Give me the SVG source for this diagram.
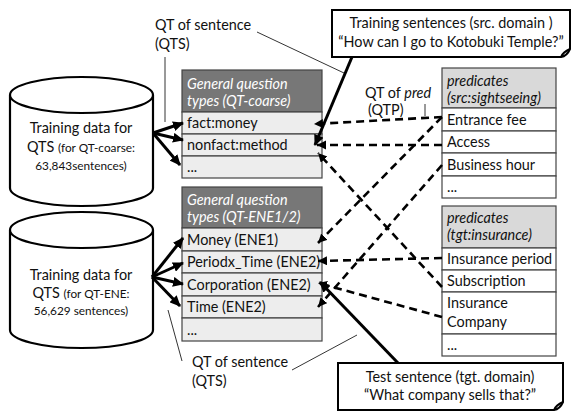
<svg xmlns="http://www.w3.org/2000/svg" width="572" height="412" viewBox="0 0 572 412">
<defs>
<marker id="ah" markerUnits="userSpaceOnUse" markerWidth="12" markerHeight="10" refX="10" refY="5" orient="auto">
<path d="M0,0 L11,5 L0,10 Z" fill="#000"/>
</marker>
<marker id="ahd" markerUnits="userSpaceOnUse" markerWidth="10" markerHeight="10" refX="9" refY="4.5" orient="auto">
<path d="M0,0 L9,4.5 L0,9 Z" fill="#000"/>
</marker>
<style>
text{font-family:Lato,"Liberation Sans",sans-serif;font-size:14.4px;fill:#111}
.s{font-size:11.8px}
.hd{font-style:italic;fill:#fff}
.hl{font-style:italic}
.cyl{fill:#fff;stroke:#000;stroke-width:2.2}
.hdark{fill:#777;stroke:#444;stroke-width:1.2}
.hlight{fill:#d9d9d9;stroke:#444;stroke-width:1.2}
.rg{fill:#ededed;stroke:#444;stroke-width:1.2}
.rw{fill:#fff;stroke:#444;stroke-width:1.2}
.arr{stroke:#000;stroke-width:3;fill:none;marker-end:url(#ah)}
.dash{stroke:#000;stroke-width:2.6;fill:none;stroke-dasharray:8,5;marker-end:url(#ahd)}
.thin{stroke:#000;stroke-width:0.8;fill:none}
.call{fill:#fff;stroke:#000;stroke-width:2}
</style>
</defs>

<g id="db1">
<path class="cyl" d="M10,95 V188 A71.5,18 0 0 0 153,188 V95 A71.5,18 0 0 0 10,95 A71.5,18 0 0 0 153,95"/>
<text x="81" y="133" text-anchor="middle">Training data for</text>
<text x="81" y="152" text-anchor="middle">QTS <tspan class="s">(for QT-coarse:</tspan></text>
<text x="81" y="170" text-anchor="middle" class="s">63,843sentences)</text>
</g>

<g id="db2">
<path class="cyl" d="M10,230 V330 A71.5,18 0 0 0 153,330 V230 A71.5,18 0 0 0 10,230 A71.5,18 0 0 0 153,230"/>
<text x="81" y="280" text-anchor="middle">Training data for</text>
<text x="81" y="298" text-anchor="middle">QTS <tspan class="s">(for QT-ENE:</tspan></text>
<text x="81" y="315" text-anchor="middle" class="s">56,629 sentences)</text>
</g>

<g id="qtcoarse">
<rect class="hdark" x="182" y="70" width="140" height="42"/>
<text x="187" y="89" class="hd">General question</text>
<text x="187" y="106" class="hd">types (QT-coarse)</text>
<rect class="rg" x="182" y="112" width="140" height="22"/>
<text x="187" y="128">fact:money</text>
<rect class="rg" x="182" y="134" width="140" height="22"/>
<text x="187" y="150">nonfact:method</text>
<rect class="rg" x="182" y="156" width="140" height="22"/>
<text x="187" y="172">...</text>
</g>

<g id="qtene">
<rect class="hdark" x="182" y="187" width="140" height="41"/>
<text x="187" y="205" class="hd">General question</text>
<text x="187" y="222" class="hd">types (QT-ENE1/2)</text>
<rect class="rg" x="182" y="228" width="140" height="23"/>
<text x="187" y="245">Money (ENE1)</text>
<rect class="rg" x="182" y="251" width="140" height="22"/>
<text x="187" y="267">Periodx_Time (ENE2)</text>
<rect class="rg" x="182" y="273" width="140" height="23"/>
<text x="187" y="290">Corporation (ENE2)</text>
<rect class="rg" x="182" y="296" width="140" height="22"/>
<text x="187" y="312">Time (ENE2)</text>
<rect class="rg" x="182" y="318" width="140" height="23"/>
<text x="187" y="335">...</text>
</g>

<g id="predsrc">
<rect class="hlight" x="442" y="68" width="114" height="40"/>
<text x="447" y="86" class="hl">predicates</text>
<text x="447" y="103" class="hl">(src:sightseeing)</text>
<rect class="rw" x="442" y="108" width="114" height="23"/>
<text x="447" y="125">Entrance fee</text>
<rect class="rw" x="442" y="131" width="114" height="22"/>
<text x="447" y="147">Access</text>
<rect class="rw" x="442" y="153" width="114" height="23"/>
<text x="447" y="170">Business hour</text>
<rect class="rw" x="442" y="176" width="114" height="22"/>
<text x="447" y="192">...</text>
</g>

<g id="predtgt">
<rect class="hlight" x="442" y="206" width="114" height="42"/>
<text x="447" y="223" class="hl">predicates</text>
<text x="447" y="240" class="hl">(tgt:insurance)</text>
<rect class="rw" x="442" y="248" width="114" height="22"/>
<text x="447" y="264">Insurance period</text>
<rect class="rw" x="442" y="270" width="114" height="22"/>
<text x="447" y="286">Subscription</text>
<rect class="rw" x="442" y="292" width="114" height="42"/>
<text x="447" y="308">Insurance</text>
<text x="447" y="327">Company</text>
<rect class="rw" x="442" y="334" width="114" height="22"/>
<text x="447" y="350">...</text>
</g>

<g id="callout-train">
<path class="call" d="M332,10 H570 V49 Q567,56 561,57 H332 Z"/>
<path d="M561,57 Q563,52 570,49" fill="none" stroke="#000" stroke-width="2"/>
<text x="451" y="28" text-anchor="middle">Training sentences (src. domain )</text>
<text x="451" y="47" text-anchor="middle">“How can I go to Kotobuki Temple?”</text>
</g>

<g id="callout-test">
<path class="call" d="M338,363 H563 V402 Q560,409 554,410 H338 Z"/>
<path d="M554,410 Q556,405 563,402" fill="none" stroke="#000" stroke-width="2"/>
<text x="450" y="382" text-anchor="middle">Test sentence (tgt. domain)</text>
<text x="450" y="400" text-anchor="middle">“What company  sells that?”</text>
</g>

<g id="labels">
<text x="155" y="30">QT of sentence</text>
<text x="155" y="49">(QTS)</text>
<text x="365" y="98">QT of <tspan font-style="italic">pred</tspan></text>
<text x="368" y="115">(QTP)</text>
<text x="192" y="367">QT of sentence</text>
<text x="192" y="386">(QTS)</text>
</g>

<g id="connectors">
<line class="thin" x1="165" y1="57" x2="165" y2="122"/>
<line class="thin" x1="257" y1="32" x2="344" y2="73"/>
<line class="thin" x1="425" y1="104" x2="425" y2="116"/>
<line class="thin" x1="168" y1="310" x2="182" y2="361"/>
<line class="thin" x1="292" y1="370" x2="357" y2="335"/>

<line class="arr" x1="153" y1="133" x2="183" y2="123"/>
<line class="arr" x1="153" y1="133" x2="183" y2="140"/>
<line class="arr" x1="153" y1="133" x2="180" y2="165"/>
<line class="arr" x1="152" y1="277" x2="183" y2="238"/>
<line class="arr" x1="152" y1="277" x2="183" y2="263"/>
<line class="arr" x1="152" y1="277" x2="183" y2="284"/>
<line class="arr" x1="152" y1="277" x2="180" y2="306"/>

<line class="arr" x1="352" y1="57" x2="315" y2="145"/>
<line class="arr" x1="398" y1="363" x2="320" y2="282"/>

<line class="dash" x1="442" y1="117" x2="314" y2="124"/>
<line class="dash" x1="442" y1="145" x2="317" y2="145"/>
<line class="dash" x1="442" y1="117" x2="318" y2="243"/>
<line class="dash" x1="442" y1="165" x2="318" y2="307"/>
<line class="dash" x1="442" y1="287" x2="318" y2="153"/>
<line class="dash" x1="442" y1="258" x2="318" y2="261"/>
<line class="dash" x1="442" y1="317" x2="318" y2="283"/>
</g>
</svg>
